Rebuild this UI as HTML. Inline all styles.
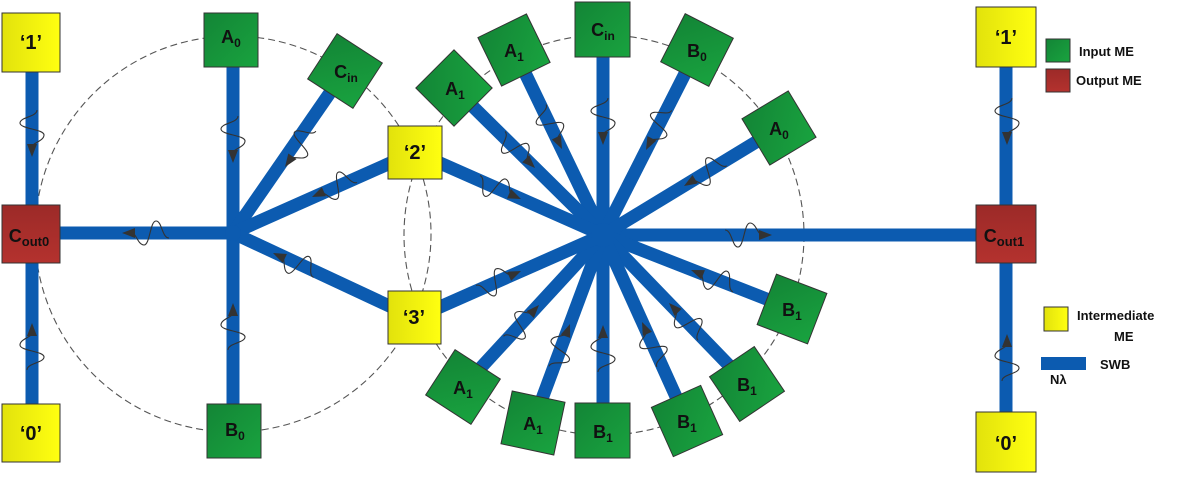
<!DOCTYPE html>
<html><head><meta charset="utf-8"><style>
html,body{margin:0;padding:0;background:#fff;}
svg{display:block;}
text{font-family:"Liberation Sans",sans-serif;font-weight:bold;fill:#111;}
</style></head><body>
<svg width="1181" height="477" viewBox="0 0 1181 477" xmlns="http://www.w3.org/2000/svg">
<defs>
<linearGradient id="gg" x1="0" y1="0" x2="1" y2="1"><stop offset="0" stop-color="#138536"/><stop offset="1" stop-color="#19a33f"/></linearGradient>
<linearGradient id="yg" x1="0" y1="0" x2="1" y2="0"><stop offset="0" stop-color="#e2e20c"/><stop offset="1" stop-color="#ffff10"/></linearGradient>
<linearGradient id="rg" x1="0" y1="0" x2="0" y2="1"><stop offset="0" stop-color="#9c2a28"/><stop offset="1" stop-color="#b4322e"/></linearGradient>
<g id="w">
<path d="M-10,0 C-14,0 -16,-12 -22,-12 C-28,-12 -28,12 -34,12 C-40,12 -40,-5 -47,-5" fill="none" stroke="#333" stroke-width="1.1"/>
<path d="M0,0 L-13,-5 L-13,5 Z" fill="#333"/>
</g>
</defs>
<circle cx="233" cy="234" r="198" fill="none" stroke="#555" stroke-width="1.1" stroke-dasharray="7,4"/>
<circle cx="604" cy="235" r="200" fill="none" stroke="#555" stroke-width="1.1" stroke-dasharray="7,4"/>

<g stroke="#0c5bb0" stroke-width="13" stroke-linecap="butt">
<line x1="32" y1="60" x2="32" y2="420"/>
<line x1="1006" y1="60" x2="1006" y2="420"/>
<line x1="50" y1="233" x2="233" y2="233"/>
<line x1="233" y1="50" x2="233" y2="420"/>
<line x1="233" y1="233" x2="345" y2="71"/>
<line x1="233" y1="233" x2="415" y2="152"/>
<line x1="233" y1="233" x2="415" y2="318"/>
<line x1="603" y1="235" x2="990" y2="235"/>
<line x1="603" y1="235" x2="514" y2="50"/>
<line x1="603" y1="235" x2="454" y2="88"/>
<line x1="603" y1="235" x2="603" y2="29"/>
<line x1="603" y1="235" x2="697" y2="50"/>
<line x1="603" y1="235" x2="779" y2="128"/>
<line x1="603" y1="235" x2="792" y2="309"/>
<line x1="603" y1="235" x2="747" y2="384"/>
<line x1="603" y1="235" x2="687" y2="421"/>
<line x1="603" y1="235" x2="603" y2="431"/>
<line x1="603" y1="235" x2="533" y2="423"/>
<line x1="603" y1="235" x2="463" y2="387"/>
<line x1="603" y1="235" x2="415" y2="152"/>
<line x1="603" y1="235" x2="415" y2="318"/>
</g>
<circle cx="603" cy="235" r="12" fill="#0c5bb0"/>
<circle cx="233" cy="233" r="8" fill="#0c5bb0"/>

<use href="#w" transform="translate(32,157) rotate(90)"/>
<use href="#w" transform="translate(32,323) rotate(-90)"/>
<use href="#w" transform="translate(1007,145) rotate(90)"/>
<use href="#w" transform="translate(1007,334) rotate(-90)"/>
<use href="#w" transform="translate(233,163) rotate(90)"/>
<use href="#w" transform="translate(285,167) rotate(124.7)"/>
<use href="#w" transform="translate(312,197) rotate(156)"/>
<use href="#w" transform="translate(273,253) rotate(-155)"/>
<use href="#w" transform="translate(233,303) rotate(-90)"/>
<use href="#w" transform="translate(122,233) rotate(180)"/>
<use href="#w" transform="translate(562,149) rotate(64.3)"/>
<use href="#w" transform="translate(535,168) rotate(44.6)"/>
<use href="#w" transform="translate(603,145) rotate(90)"/>
<use href="#w" transform="translate(646,150) rotate(116.9)"/>
<use href="#w" transform="translate(684,186) rotate(148.7)"/>
<use href="#w" transform="translate(691,270) rotate(-158.6)"/>
<use href="#w" transform="translate(669,303) rotate(-134)"/>
<use href="#w" transform="translate(642,322) rotate(-114.3)"/>
<use href="#w" transform="translate(603,325) rotate(-90)"/>
<use href="#w" transform="translate(570,324) rotate(-69.6)"/>
<use href="#w" transform="translate(539,305) rotate(-47.4)"/>
<use href="#w" transform="translate(521,199) rotate(23.8)"/>
<use href="#w" transform="translate(521,271) rotate(-23.8)"/>
<use href="#w" transform="translate(772,235) rotate(0)"/>

<g stroke="#333" stroke-width="1">
<rect x="2" y="13" width="58" height="59" fill="url(#yg)"/>
<rect x="2" y="205" width="58" height="58" fill="url(#rg)"/>
<rect x="2" y="404" width="58" height="58" fill="url(#yg)"/>
<rect x="976" y="7" width="60" height="60" fill="url(#yg)"/>
<rect x="976" y="205" width="60" height="58" fill="url(#rg)"/>
<rect x="976" y="412" width="60" height="60" fill="url(#yg)"/>
<rect x="388" y="126" width="54" height="53" fill="url(#yg)"/>
<rect x="388" y="291" width="53" height="53" fill="url(#yg)"/>
<rect x="204" y="13" width="54" height="54" fill="url(#gg)"/>
<rect x="207" y="404" width="54" height="54" fill="url(#gg)"/>
<rect x="-27" y="-27" width="54" height="54" fill="url(#gg)" transform="translate(345,71) rotate(33)"/>
<rect x="-27" y="-27" width="54" height="54" fill="url(#gg)" transform="translate(514,50) rotate(-26)"/>
<rect x="-27" y="-27" width="54" height="54" fill="url(#gg)" transform="translate(454,88) rotate(-45)"/>
<rect x="575" y="2" width="55" height="55" fill="url(#gg)"/>
<rect x="-27" y="-27" width="54" height="54" fill="url(#gg)" transform="translate(697,50) rotate(27)"/>
<rect x="-27" y="-27" width="54" height="54" fill="url(#gg)" transform="translate(779,128) rotate(-31)"/>
<rect x="-27" y="-27" width="54" height="54" fill="url(#gg)" transform="translate(792,309) rotate(21)"/>
<rect x="-27" y="-27" width="54" height="54" fill="url(#gg)" transform="translate(747,384) rotate(-34)"/>
<rect x="-27" y="-27" width="54" height="54" fill="url(#gg)" transform="translate(687,421) rotate(-24)"/>
<rect x="575" y="403" width="55" height="55" fill="url(#gg)"/>
<rect x="-27" y="-27" width="54" height="54" fill="url(#gg)" transform="translate(533,423) rotate(12)"/>
<rect x="-27" y="-27" width="54" height="54" fill="url(#gg)" transform="translate(463,387) rotate(33)"/>
</g>

<g font-size="20" text-anchor="middle">
<text x="31" y="49">‘1’</text>
<text x="31" y="440">‘0’</text>
<text x="1006" y="44">‘1’</text>
<text x="1006" y="450">‘0’</text>
<text x="415" y="159">‘2’</text>
<text x="414" y="324">‘3’</text>
</g>
<g font-size="18" text-anchor="middle">
<text x="29" y="242">C<tspan font-size="13" dy="4">out0</tspan></text>
<text x="1004" y="242">C<tspan font-size="13" dy="4">out1</tspan></text>
<text x="231" y="43">A<tspan font-size="12" dy="4">0</tspan></text>
<text x="235" y="436">B<tspan font-size="12" dy="4">0</tspan></text>
<text x="346" y="78">C<tspan font-size="12" dy="4">in</tspan></text>
<text x="514" y="57">A<tspan font-size="12" dy="4">1</tspan></text>
<text x="455" y="95">A<tspan font-size="12" dy="4">1</tspan></text>
<text x="603" y="36">C<tspan font-size="12" dy="4">in</tspan></text>
<text x="697" y="57">B<tspan font-size="12" dy="4">0</tspan></text>
<text x="779" y="135">A<tspan font-size="12" dy="4">0</tspan></text>
<text x="792" y="316">B<tspan font-size="12" dy="4">1</tspan></text>
<text x="747" y="391">B<tspan font-size="12" dy="4">1</tspan></text>
<text x="687" y="428">B<tspan font-size="12" dy="4">1</tspan></text>
<text x="603" y="438">B<tspan font-size="12" dy="4">1</tspan></text>
<text x="533" y="430">A<tspan font-size="12" dy="4">1</tspan></text>
<text x="463" y="394">A<tspan font-size="12" dy="4">1</tspan></text>
</g>

<rect x="1046" y="39" width="24" height="23" fill="url(#gg)" stroke="#333" stroke-width="1"/>
<rect x="1046" y="69" width="24" height="23" fill="url(#rg)" stroke="#333" stroke-width="1"/>
<rect x="1044" y="307" width="24" height="24" fill="url(#yg)" stroke="#333" stroke-width="1"/>
<rect x="1041" y="357" width="45" height="13" fill="#0c5bb0"/>
<g font-size="13">
<text x="1079" y="56">Input ME</text>
<text x="1076" y="85">Output ME</text>
<text x="1077" y="320">Intermediate</text>
<text x="1114" y="341">ME</text>
<text x="1100" y="369">SWB</text>
<text x="1050" y="384">Nλ</text>
</g>
</svg>
</body></html>
